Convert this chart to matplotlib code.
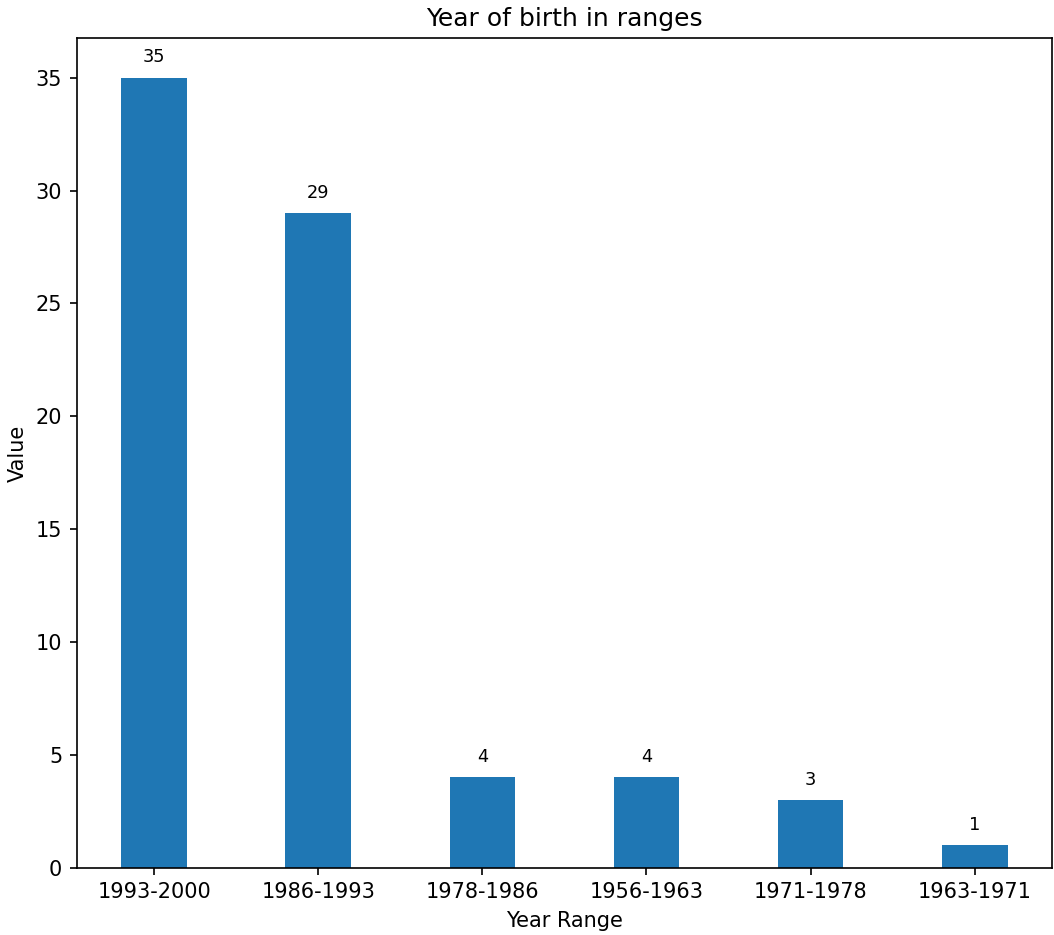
import matplotlib
matplotlib.use("Agg")
import matplotlib.pyplot as plt
import numpy as np

# data
year_ranges = ["1993-2000", "1986-1993", "1978-1986", "1956-1963", "1971-1978", "1963-1971"]
counts = [35, 29, 4, 4, 3, 1]

fig, ax = plt.subplots(figsize=(1054 / 150, 935 / 150), dpi=150)
fig.subplots_adjust(left=0.073, right=0.998, top=0.959, bottom=0.072)

x = np.arange(len(year_ranges))
bars = ax.bar(x, counts, width=0.4, color="#1f77b4")

# value labels over the bars
for rect in bars:
    h = rect.get_height()
    ax.annotate(f"{h:.0f}",
                xy=(rect.get_x() + rect.get_width() / 2, h),
                xytext=(0, 5.5), textcoords="offset points",
                ha="center", va="bottom", fontsize=8.5)

ax.set_xticks(x)
ax.set_xticklabels(year_ranges)
ax.set_xlabel("Year Range")
ax.set_ylabel("Value")
ax.set_title("Year of birth in ranges")

fig.savefig("out.png", dpi=150)
